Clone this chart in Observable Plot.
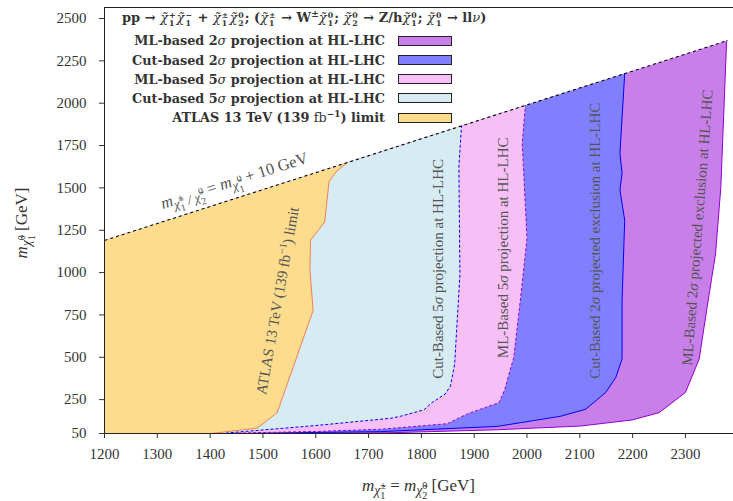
<!DOCTYPE html>
<html><head><meta charset="utf-8">
<script src="https://cdn.jsdelivr.net/npm/d3@7"></script>
<script src="https://cdn.jsdelivr.net/npm/@observablehq/plot@0.6"></script>
<style>
body{margin:0;background:#fff}
#wrap{position:relative;width:733px;height:501px;overflow:hidden;background:#fff}
#legend{position:absolute;left:0;top:0;width:733px;height:140px;font-family:"DejaVu Serif";font-weight:bold;font-size:12.8px;color:#333;pointer-events:none}
#legend .row{position:absolute;right:348px;white-space:nowrap;text-align:right;line-height:13px}
#legend .title{position:absolute;left:122px;top:11px;white-space:nowrap;line-height:14px;font-size:13px}
#legend .sw{position:absolute;left:398px;width:52px;height:8px;border:1px solid #222}
.ss{display:inline-flex;flex-direction:column;font-size:0.6em;line-height:1.05;vertical-align:0.55em;margin-left:1px;margin-right:1px}
.nb{font-weight:normal}
</style></head>
<body><div id="wrap"><div id="chart"></div><div id="legend"></div></div>
<script>
// ---- data ----
const xTicks = [1200,1300,1400,1500,1600,1700,1800,1900,2000,2100,2200,2300];
const yTicks = [50,250,500,750,1000,1250,1500,1750,2000,2250,2500];
// kinematic line m(chi1+-/chi20) = m(chi10) + 10 GeV
const diagX = [1200, 2380];
const diagY = [1190, 2370];
// ATLAS 13 TeV (139 fb-1) limit
const atlasX = [1401,1489,1527,1537,1595,1589,1590,1617,1625,1640,1660];
const atlasY = [50,81,173,262,776,1013,1190,1299,1536,1600,1650];
// Cut-based 5 sigma
const cut5X = [1420,1600,1742,1761,1805,1820,1845,1855,1863,1873,1871,1876];
const cut5Y = [50,97,140,152,190,232,283,330,460,990,1625,1866];
// ML-based 5 sigma
const ml5X = [1415,1600,1723,1849,1888,1947,1958,1966,1975,1988,2000,1991,1997];
const ml5Y = [50,62,75,108,167,232,310,401,499,854,1200,1763,1987];
// Cut-based 2 sigma
const cut2X = [1415,1600,1723,1944,2064,2111,2149,2168,2180,2180,2185,2176,2180,2176,2185];
const cut2Y = [50,56,61,92,152,193,292,380,490,835,1309,1487,1586,1704,2175];
// ML-based 2 sigma
const ml2X = [1420,1723,1944,2101,2199,2250,2300,2326,2341,2357,2367,2378];
const ml2Y = [50,53,72,94,130,173,292,490,795,1111,1502,2368];

const legendLabels = ["ML-based 2<i class='nb'>σ</i> projection at HL-LHC","Cut-based 2<i class='nb'>σ</i> projection at HL-LHC","ML-based 5<i class='nb'>σ</i> projection at HL-LHC","Cut-based 5<i class='nb'>σ</i> projection at HL-LHC","ATLAS 13 TeV (139 <span class='nb'>fb</span><sup style='font-size:0.7em;line-height:0'>−1</sup>) limit"];
const legendColors = ["#c97fe9","#8080ff","#f6c0f6","#d6ebf2","#fddc8e"];

// annotation anchors (data units)
const annX = [1446,1528,1831,1954,2130,2323];
const annY = [1540,833,1022,1146,1188,1265];
const annRot = [-17.7,-80,-90,-90,-90,-85.7];

const pts = (xs, ys) => xs.map((x,i)=>({x, y: ys[i]}));
const poly = (xs, ys) => [{x: diagX[0], y: yTicks[0]}, ...pts(xs, ys), {x: diagX[0], y: diagY[0]}];

const ann = annX.map((x,i)=>({x, y: annY[i], r: annRot[i], k: "A"+i}));

const chart = Plot.plot({
  width: 733, height: 501,
  marginLeft: 104, marginRight: 0, marginTop: 7, marginBottom: 68,
  style: {fontFamily: "Liberation Serif", fontSize: "15px", color: "#333", background: "white"},
  x: {domain: [1200, 2391], label: null},
  y: {domain: [50, 2565], label: null},
  marks: [
    Plot.line(poly(ml2X, ml2Y), {x:"x", y:"y", fill: legendColors[0], stroke: "none"}),
    Plot.line(pts(ml2X, ml2Y), {x:"x", y:"y", stroke: "#9400d3", strokeWidth: 1}),
    Plot.line(poly(cut2X, cut2Y), {x:"x", y:"y", fill: legendColors[1], stroke: "none"}),
    Plot.line(pts(cut2X, cut2Y), {x:"x", y:"y", stroke: "#0000ff", strokeWidth: 1}),
    Plot.line(poly(ml5X, ml5Y), {x:"x", y:"y", fill: legendColors[2], stroke: "none"}),
    Plot.line(pts(ml5X, ml5Y), {x:"x", y:"y", stroke: "#9400d3", strokeWidth: 1, strokeDasharray: "3,2", strokeLinecap: "butt"}),
    Plot.line(poly(cut5X, cut5Y), {x:"x", y:"y", fill: legendColors[3], stroke: "none"}),
    Plot.line(pts(cut5X, cut5Y), {x:"x", y:"y", stroke: "#0000ff", strokeWidth: 1, strokeDasharray: "3,2", strokeLinecap: "butt"}),
    Plot.line(poly(atlasX, atlasY), {x:"x", y:"y", fill: legendColors[4], stroke: "none"}),
    Plot.line(pts(atlasX, atlasY), {x:"x", y:"y", stroke: "#f47f55", strokeWidth: 1}),
    Plot.line(pts(diagX, diagY), {x:"x", y:"y", stroke: "black", strokeWidth: 1.1, strokeDasharray: "3,3", strokeLinecap: "butt"}),
    Plot.text(ann, {x:"x", y:"y", text:"k", rotate:"r", fontSize: 15, fill: "#555"}),
    Plot.ruleX([1200], {stroke: "#222"}),
    Plot.ruleY([50], {stroke: "#222"}),
    Plot.ruleY([2565], {stroke: "#222"}),
    Plot.axisX({ticks: xTicks, tickSize: 5, tickPadding: 10, tickFormat: d => String(d)}),
    Plot.axisY({ticks: yTicks, tickSize: 5, tickPadding: 13, tickFormat: d => String(d)})
  ]
});
document.getElementById("chart").appendChild(chart);

// ---- rich text helper (sub/superscripts as tspans) ----
function rich(el, parts){
  const t = d3.select(el); t.text(null);
  let shift = 0, pending = 0, lastW = 0;
  for (const p of parts){
    const ts = t.append("tspan").text(p.t).attr("font-size", p.fs);
    if (p.it) ts.attr("font-style", "italic");
    const yy = p.y || 0;
    if (yy - shift) ts.attr("dy", yy - shift);
    shift = yy;
    const w = ts.node().getComputedTextLength();
    if (p.stack){
      ts.attr("dx", -lastW);
      pending = Math.max(0, lastW - w);
      lastW = Math.max(lastW, w);
    } else {
      if (pending) ts.attr("dx", pending);
      pending = 0; lastW = w;
    }
  }
}
// chi~ with sub/sup at given base size and baseline offset
function chi(F, base, sub, sup){
  return [
    {t:"χ̃", fs:F, y:base, it:true},
    {t:sub, fs:F*0.75, y:base+F*0.32},
    {t:sup, fs:F*0.75, y:base-F*0.48, stack:true}
  ];
}
function mchi(F, sub, sup){
  return [{t:"m", fs:F, it:true}, ...chi(F*0.8, F*0.24, sub, sup)];
}

const AF = 15, DF = 16.5;
const sig = (pre, post) => [{t:pre, fs:AF}, {t:"σ", fs:AF, it:true}, {t:post, fs:AF}];
const annParts = {
  A0: [{t:"m", fs:DF, it:true}, ...chi(DF*0.8, DF*0.24, "1", "±"), {t:" / ", fs:DF*0.8, y:DF*0.24, it:true}, ...chi(DF*0.8, DF*0.24, "2", "0"),
       {t:" = ", fs:DF, y:0}, ...mchi(DF, "1", "0"), {t:" + 10 GeV", fs:DF, y:0}],
  A1: [{t:"ATLAS 13 TeV (139 fb", fs:AF}, {t:"−1", fs:AF*0.7, y:-AF*0.38}, {t:") limit", fs:AF, y:0}],
  A2: sig("Cut-Based 5", " projection at HL-LHC"),
  A3: sig("ML-Based 5", " projection at HL-LHC"),
  A4: sig("Cut-Based 2", " projected exclusion at HL-LHC"),
  A5: sig("ML-Based 2", " projected exclusion at HL-LHC")
};
d3.select(chart).selectAll("text").each(function(){
  const k = this.textContent;
  if (annParts[k]) rich(this, annParts[k]);
});

// axis titles
const xs = chart.scale("x"), ys = chart.scale("y");
const svg = d3.select(chart);
const LF = 17;
const xl = svg.append("text").attr("text-anchor","middle").attr("fill","#333")
  .attr("font-family","Liberation Serif")
  .attr("transform", `translate(${(xs.range[0]+xs.range[1])/2},491)`);
rich(xl.node(), [...mchi(LF, "1", "±"), {t:" = ", fs:LF, y:0}, ...mchi(LF, "2", "0"), {t:" [GeV]", fs:LF, y:0}]);
const yl = svg.append("text").attr("text-anchor","middle").attr("fill","#333")
  .attr("font-family","Liberation Serif")
  .attr("transform", `translate(27,${(ys.range[0]+ys.range[1])/2 + 3}) rotate(-90)`);
rich(yl.node(), [...mchi(LF, "1", "0"), {t:" [GeV]", fs:LF, y:0}]);

// ---- legend (HTML) ----
const cx = (sub, sup) => `<i class="nb">χ̃</i><span class="ss"><span>${sup}</span><span>${sub}</span></span>`;
const lg = document.getElementById("legend");
let html = `<div class="title">pp → ${cx(1,'+')}${cx(1,'−')} + ${cx(1,'±')}${cx(2,'0')}; (${cx(1,'±')} → W<sup style="font-size:0.7em;line-height:0">±</sup>${cx(1,'0')}; ${cx(2,'0')} → Z/h${cx(1,'0')}; ${cx(1,'0')} → ll<i class="nb">ν</i>)</div>`;
legendLabels.forEach((l, i) => {
  const c = 40.8 + 19.2*i;
  html += `<div class="row" style="top:${c-6.5}px">${l}</div><div class="sw" style="top:${c-5}px;background:${legendColors[i]}"></div>`;
});
lg.innerHTML = html;
</script>
</body></html>
